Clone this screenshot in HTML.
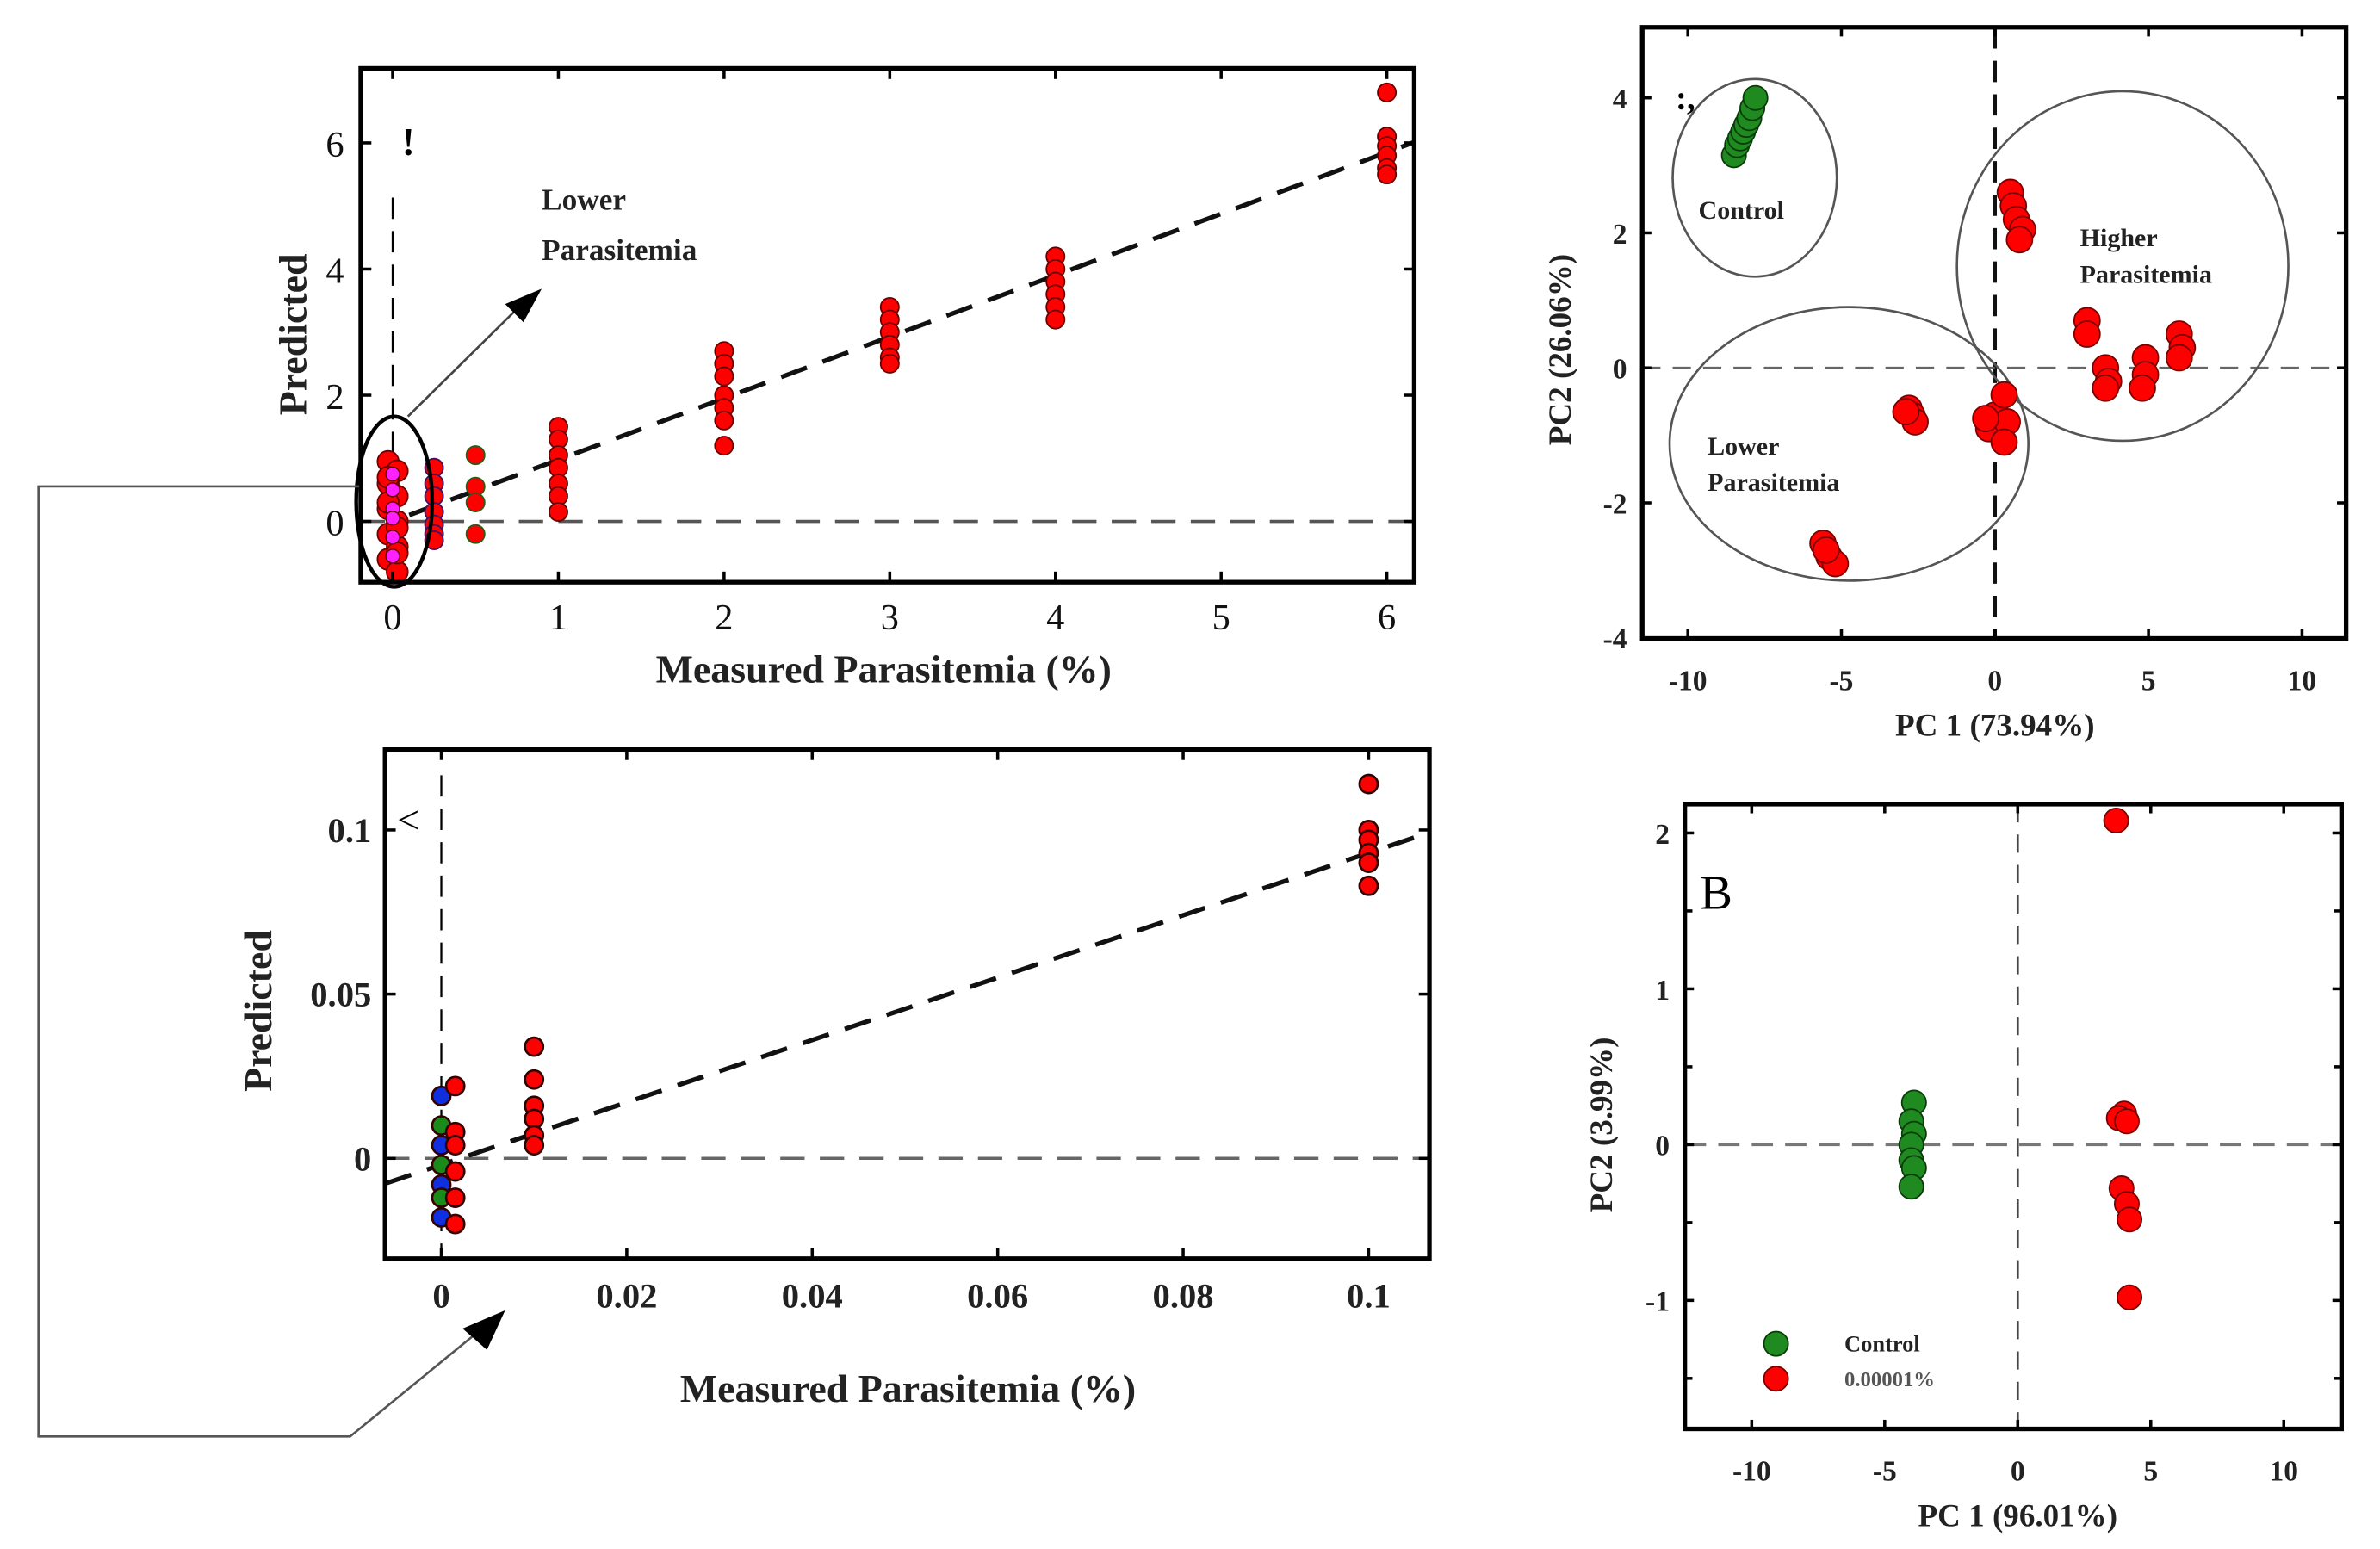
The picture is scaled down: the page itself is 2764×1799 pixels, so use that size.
<!DOCTYPE html>
<html><head><meta charset="utf-8"><style>
html,body{margin:0;padding:0;background:#fff;}
svg{display:block;}
text{font-family:"Liberation Serif",serif;}
</style></head><body>
<svg id="fig" width="2764" height="1799" viewBox="0 0 1565 1019" xmlns="http://www.w3.org/2000/svg">
<rect width="1565" height="1019" fill="#fff"/>
<g id="c1"></g>
<g id="c2"></g>
<g id="c3"></g>
<g id="c4"></g>
</svg>
<script>
// ---- chart 1 data
const c1XTicks=[0,1,2,3,4,5,6];
const c1YTicks=[0,2,4,6];
const c1X=[0,0,0,0,0,0,0,0,0,0,0,0,0,0,0.25,0.25,0.25,0.25,0.25,0.25,0.25,0.5,0.5,0.5,0.5,1,1,1,1,1,1,1,2,2,2,2,2,2,2,3,3,3,3,3,3,4,4,4,4,4,4,6,6,6,6,6,6];
const c1Y=[0.95,0.8,0.6,0.4,0.2,0,-0.2,-0.4,-0.6,-0.8,0.3,-0.1,0.7,-0.5,0.85,0.6,0.4,0.15,-0.05,-0.2,-0.3,1.05,0.55,0.3,-0.2,1.5,1.3,1.05,0.85,0.6,0.4,0.15,2.7,2.5,2.3,2.0,1.8,1.6,1.2,3.4,3.2,3.0,2.8,2.6,2.5,4.2,4.0,3.8,3.6,3.4,3.2,6.8,6.1,5.95,5.8,5.6,5.5];
const c1Col=["r","r","r","r","r","r","r","r","r","r","r","r","r","r","p","p","p","p","p","p","p","g","g","g","g","r","r","r","r","r","r","r","r","r","r","r","r","r","r","r","r","r","r","r","r","r","r","r","r","r","r","r","r","r","r","r","r"];
const c1Mag=[0.75,0.5,0.2,0.05,-0.25,-0.55];
// ---- chart 2 data
const c2XTicks=[0,0.02,0.04,0.06,0.08,0.1];
const c2XLabels=["0","0.02","0.04","0.06","0.08","0.1"];
const c2YTicks=[0,0.05,0.1];
const c2YLabels=["0","0.05","0.1"];
const c2X=[0,0,0,0,0,0,0,0.0015,0.0015,0.0015,0.0015,0.0015,0.0015,0.01,0.01,0.01,0.01,0.01,0.01,0.1,0.1,0.1,0.1,0.1,0.1];
const c2Y=[0.019,0.01,0.004,-0.002,-0.008,-0.012,-0.018,0.022,0.008,0.004,-0.004,-0.012,-0.02,0.034,0.024,0.016,0.012,0.007,0.004,0.114,0.1,0.097,0.093,0.09,0.083];
const c2Col=["b","g","b","g","b","g","b","r","r","r","r","r","r","r","r","r","r","r","r","r","r","r","r","r","r"];
// ---- chart 3 data
const c3XTicks=[-10,-5,0,5,10];
const c3YTicks=[-4,-2,0,2,4];
const c3GreenX=[-8.5,-8.4,-8.3,-8.2,-8.1,-8.0,-7.9,-7.8];
const c3GreenY=[3.15,3.3,3.4,3.5,3.6,3.7,3.85,4.0];
const c3RedX=[0.5,0.6,0.7,0.9,0.8,3.0,3.0,3.6,3.7,3.6,4.9,4.9,4.8,6.0,6.1,6.0,-2.8,-2.7,-2.6,-2.9,0,-0.2,0.3,0.4,0.3,-0.3,-5.6,-5.4,-5.2,-5.5];
const c3RedY=[2.6,2.4,2.2,2.05,1.9,0.7,0.5,0.0,-0.2,-0.3,0.15,-0.1,-0.3,0.5,0.3,0.15,-0.6,-0.7,-0.8,-0.65,-0.7,-0.9,-0.4,-0.8,-1.1,-0.75,-2.6,-2.8,-2.9,-2.7];
// ---- chart 4 data
const c4XTicks=[-10,-5,0,5,10];
const c4YTicks=[-1,0,1,2];
const c4GreenX=[-3.9,-4.0,-3.9,-4.0,-4.0,-3.9,-4.0];
const c4GreenY=[0.27,0.15,0.07,0,-0.1,-0.15,-0.27];
const c4RedX=[3.7,4.0,3.8,4.1,3.9,4.1,4.2,4.2];
const c4RedY=[2.08,0.2,0.17,0.15,-0.28,-0.38,-0.48,-0.98];

const NS="http://www.w3.org/2000/svg";
function mk(parent,tag,attrs,txt){const e=document.createElementNS(NS,tag);for(const k in attrs)e.setAttribute(k,attrs[k]);if(txt!==undefined)e.textContent=txt;parent.appendChild(e);return e;}
const COL={r:"#ff0000",g:"#1a8a1a",b:"#1030e0",m:"#ff20ff"};

// ===== Chart 1 =====
(function(){
const g=document.getElementById('c1');
const L=237,R=930,T=45,B=383;
const sx=v=>258+v*109, sy=v=>343-v*41.5;
mk(g,'line',{x1:258,y1:130,x2:258,y2:B,stroke:'#000','stroke-width':1.3,'stroke-dasharray':'14,8'});
mk(g,'line',{x1:L,y1:sy(0),x2:R,y2:sy(0),stroke:'#555','stroke-width':2,'stroke-dasharray':'16,10'});
const fl=mk(g,'line',{x1:sx(0.1),y1:sy(0.1),x2:R,y2:sy(0.975*(R-258)/109),stroke:'#111','stroke-width':3,'stroke-dasharray':'18,11'});


for(let i=0;i<c1X.length;i++){
const st=c1Col[i]=='g'?'#2a5a1a':(c1Col[i]=='p'?'#401060':'#600');
const c=mk(g,'circle',{cx:sx(c1X[i])+(c1X[i]==0?(i%2?3:-3):0),cy:sy(c1Y[i]),r:c1X[i]==0?7:6,fill:COL.r,stroke:st,'stroke-width':1});

}
for(let i=0;i<c1Mag.length;i++){const c=mk(g,'circle',{cx:sx(0),cy:sy(c1Mag[i]),r:4.5,fill:COL.m,stroke:'#600','stroke-width':0.8});

}
mk(g,'rect',{x:L,y:T,width:R-L,height:B-T,fill:'none',stroke:'#000','stroke-width':3});
c1XTicks.forEach(v=>{mk(g,'line',{x1:sx(v),y1:T,x2:sx(v),y2:T+7,stroke:'#000','stroke-width':2});mk(g,'line',{x1:sx(v),y1:B,x2:sx(v),y2:B-7,stroke:'#000','stroke-width':2});
const t=mk(g,'text',{x:sx(v),y:414,'font-size':24,'text-anchor':'middle',fill:'#111'},String(v));

});
c1YTicks.forEach(v=>{mk(g,'line',{x1:L,y1:sy(v),x2:L+7,y2:sy(v),stroke:'#000','stroke-width':2});mk(g,'line',{x1:R,y1:sy(v),x2:R-7,y2:sy(v),stroke:'#000','stroke-width':2});
const t=mk(g,'text',{x:226,y:sy(v)+9,'font-size':24,'text-anchor':'end',fill:'#111'},String(v));

});
})();
</script>
<script>
(function(){
const svg=document.getElementById('fig');
const g=document.getElementById('c1');
const a=(p,tag,at,tx)=>{const e=document.createElementNS(NS,tag);for(const k in at)e.setAttribute(k,at[k]);if(tx!==undefined)e.textContent=tx;p.appendChild(e);return e;};
const t1=a(g,'text',{x:581,y:449,'font-size':26,'font-weight':'bold','text-anchor':'middle',fill:'#222'},'Measured Parasitemia (%)');


const t2=a(g,'text',{x:0,y:0,'font-size':26,'font-weight':'bold','text-anchor':'middle',fill:'#222',transform:'translate(201,220) rotate(-90)'},'Predicted');


a(g,'ellipse',{cx:259,cy:330,rx:25,ry:56,fill:'none',stroke:'#000','stroke-width':2.5});
a(g,'line',{x1:268,y1:274,x2:340,y2:203,stroke:'#444','stroke-width':1.5});
a(g,'polygon',{points:'356,190 332,200 344,212',fill:'#000'});
const l1=a(g,'text',{x:356,y:138,'font-size':20,'font-weight':'bold',fill:'#222'},'Lower');


const l2=a(g,'text',{x:356,y:171,'font-size':20,'font-weight':'bold',fill:'#222'},'Parasitemia');


a(g,'text',{x:264,y:102,'font-size':26,'font-weight':'bold',fill:'#000'},'!');
a(svg,'polyline',{points:'236,320 25,320 25,945 230,945 318,873',fill:'none',stroke:'#555','stroke-width':1.5});
a(svg,'polygon',{points:'332,862 304,874 320,888',fill:'#000'});

// ===== Chart 2 =====
const g2=document.getElementById('c2');
const L=253,R=940,T=493,B=828;
const sx=v=>290+v*6100, sy=v=>762-v*2160;
a(g2,'line',{x1:290,y1:510,x2:290,y2:B,stroke:'#000','stroke-width':1.3,'stroke-dasharray':'14,8'});
a(g2,'line',{x1:L,y1:sy(0),x2:R,y2:sy(0),stroke:'#666','stroke-width':2,'stroke-dasharray':'16,10'});
const fl=a(g2,'line',{x1:L,y1:sy(0.95*(-0.006)-0.002),x2:R,y2:sy(0.95*((R-290)/6100)-0.002),stroke:'#111','stroke-width':3,'stroke-dasharray':'18,11'});


for(let i=0;i<c2X.length;i++){const c=a(g2,'circle',{cx:sx(c2X[i]),cy:sy(c2Y[i]),r:6,fill:COL[c2Col[i]],stroke:'#300','stroke-width':1.5});

}
a(g2,'rect',{x:L,y:T,width:R-L,height:B-T,fill:'none',stroke:'#000','stroke-width':3});
c2XTicks.forEach((v,i)=>{a(g2,'line',{x1:sx(v),y1:T,x2:sx(v),y2:T+7,stroke:'#000','stroke-width':2});a(g2,'line',{x1:sx(v),y1:B,x2:sx(v),y2:B-7,stroke:'#000','stroke-width':2});
const t=a(g2,'text',{x:sx(v),y:860,'font-size':23,'font-weight':'bold','text-anchor':'middle',fill:'#222'},c2XLabels[i]);

});
c2YTicks.forEach((v,i)=>{a(g2,'line',{x1:L,y1:sy(v),x2:L+7,y2:sy(v),stroke:'#000','stroke-width':2});a(g2,'line',{x1:R,y1:sy(v),x2:R-7,y2:sy(v),stroke:'#000','stroke-width':2});
const t=a(g2,'text',{x:244,y:sy(v)+8,'font-size':23,'font-weight':'bold','text-anchor':'end',fill:'#222'},c2YLabels[i]);

});
const t3=a(g2,'text',{x:597,y:922,'font-size':26,'font-weight':'bold','text-anchor':'middle',fill:'#222'},'Measured Parasitemia (%)');


const t4=a(g2,'text',{x:0,y:0,'font-size':26,'font-weight':'bold','text-anchor':'middle',fill:'#222',transform:'translate(178,665) rotate(-90)'},'Predicted');


a(g2,'text',{x:261,y:548,'font-size':26,fill:'#000'},'<');

// ===== Chart 3 =====
const g3=document.getElementById('c3');
{const L=1080,R=1543,T=18,B=420;
const sx=v=>1312+v*20.2, sy=v=>242-v*44.4;
a(g3,'line',{x1:sx(0),y1:T,x2:sx(0),y2:B,stroke:'#111','stroke-width':2.5,'stroke-dasharray':'14,8'});
a(g3,'line',{x1:L,y1:sy(0),x2:R,y2:sy(0),stroke:'#666','stroke-width':1.5,'stroke-dasharray':'12,8'});
a(g3,'ellipse',{cx:1154,cy:117,rx:54,ry:65,fill:'none',stroke:'#555','stroke-width':1.5});
a(g3,'ellipse',{cx:1396,cy:175,rx:109,ry:115,fill:'none',stroke:'#555','stroke-width':1.5});
a(g3,'ellipse',{cx:1216,cy:292,rx:118,ry:90,fill:'none',stroke:'#555','stroke-width':1.5});
for(let i=0;i<c3GreenX.length;i++){const c=a(g3,'circle',{cx:sx(c3GreenX[i]),cy:sy(c3GreenY[i]),r:8,fill:'#1f8a1f',stroke:'#0a3a0a','stroke-width':1});

}
for(let i=0;i<c3RedX.length;i++){const c=a(g3,'circle',{cx:sx(c3RedX[i]),cy:sy(c3RedY[i]),r:8.5,fill:'#ff0000',stroke:'#700','stroke-width':1});

}
a(g3,'rect',{x:L,y:T,width:R-L,height:B-T,fill:'none',stroke:'#000','stroke-width':3});
c3XTicks.forEach(v=>{a(g3,'line',{x1:sx(v),y1:T,x2:sx(v),y2:T+6,stroke:'#000','stroke-width':2});a(g3,'line',{x1:sx(v),y1:B,x2:sx(v),y2:B-6,stroke:'#000','stroke-width':2});
const t=a(g3,'text',{x:sx(v),y:454,'font-size':19,'font-weight':'bold','text-anchor':'middle',fill:'#222'},String(v));

});
c3YTicks.forEach(v=>{a(g3,'line',{x1:L,y1:sy(v),x2:L+6,y2:sy(v),stroke:'#000','stroke-width':2});a(g3,'line',{x1:R,y1:sy(v),x2:R-6,y2:sy(v),stroke:'#000','stroke-width':2});
const t=a(g3,'text',{x:1070,y:sy(v)+7,'font-size':19,'font-weight':'bold','text-anchor':'end',fill:'#222'},String(v));

});
const tt=a(g3,'text',{x:1312,y:484,'font-size':21,'font-weight':'bold','text-anchor':'middle',fill:'#222'},'PC 1 (73.94%)');


const ty=a(g3,'text',{x:0,y:0,'font-size':21,'font-weight':'bold','text-anchor':'middle',fill:'#222',transform:'translate(1033,230) rotate(-90)'},'PC2 (26.06%)');


[['Control',1117,144],['Higher',1368,162],['Parasitemia',1368,186],['Lower',1123,299],['Parasitemia',1123,323]].forEach(d=>{const t=a(g3,'text',{x:d[1],y:d[2],'font-size':17,'font-weight':'bold',fill:'#222'},d[0]);

});
a(g3,'text',{x:1102,y:72,'font-size':22,'font-weight':'bold',fill:'#000'},':,');
}

// ===== Chart 4 =====
const g4=document.getElementById('c4');
{const L=1108,R=1540,T=529,B=940;
const sx=v=>1327+v*17.5, sy=v=>753-v*102.5;
a(g4,'line',{x1:sx(0),y1:T,x2:sx(0),y2:B,stroke:'#444','stroke-width':1.5,'stroke-dasharray':'12,8'});
a(g4,'line',{x1:L,y1:sy(0),x2:R,y2:sy(0),stroke:'#777','stroke-width':2,'stroke-dasharray':'14,8'});
for(let i=0;i<c4GreenX.length;i++){const c=a(g4,'circle',{cx:sx(c4GreenX[i]),cy:sy(c4GreenY[i]),r:8,fill:'#1f8a1f',stroke:'#0a3a0a','stroke-width':1});

}
for(let i=0;i<c4RedX.length;i++){const c=a(g4,'circle',{cx:sx(c4RedX[i]),cy:sy(c4RedY[i]),r:8,fill:'#ff0000',stroke:'#700','stroke-width':1});

}
a(g4,'rect',{x:L,y:T,width:R-L,height:B-T,fill:'none',stroke:'#000','stroke-width':3});
c4XTicks.forEach(v=>{a(g4,'line',{x1:sx(v),y1:T,x2:sx(v),y2:T+6,stroke:'#000','stroke-width':2});a(g4,'line',{x1:sx(v),y1:B,x2:sx(v),y2:B-6,stroke:'#000','stroke-width':2});
const t=a(g4,'text',{x:sx(v),y:974,'font-size':19,'font-weight':'bold','text-anchor':'middle',fill:'#222'},String(v));

});
c4YTicks.forEach(v=>{a(g4,'line',{x1:L,y1:sy(v),x2:L+6,y2:sy(v),stroke:'#000','stroke-width':2});a(g4,'line',{x1:R,y1:sy(v),x2:R-6,y2:sy(v),stroke:'#000','stroke-width':2});
const t=a(g4,'text',{x:1098,y:sy(v)+7,'font-size':19,'font-weight':'bold','text-anchor':'end',fill:'#222'},String(v));

});
[-1.5,-0.5,0.5,1.5].forEach(v=>{a(g4,'line',{x1:L,y1:sy(v),x2:L+5,y2:sy(v),stroke:'#000','stroke-width':2});a(g4,'line',{x1:R,y1:sy(v),x2:R-5,y2:sy(v),stroke:'#000','stroke-width':2});});
const tt=a(g4,'text',{x:1327,y:1004,'font-size':21,'font-weight':'bold','text-anchor':'middle',fill:'#222'},'PC 1 (96.01%)');


const ty=a(g4,'text',{x:0,y:0,'font-size':21,'font-weight':'bold','text-anchor':'middle',fill:'#222',transform:'translate(1060,740) rotate(-90)'},'PC2 (3.99%)');


a(g4,'text',{x:1118,y:598,'font-size':32,fill:'#000'},'B');
a(g4,'circle',{cx:1168,cy:884,r:8,fill:'#1f8a1f',stroke:'#0a3a0a','stroke-width':1});
a(g4,'circle',{cx:1168,cy:907,r:8,fill:'#ff0000',stroke:'#700','stroke-width':1});
const lg1=a(g4,'text',{x:1213,y:889,'font-size':15,'font-weight':'bold',fill:'#222'},'Control');


const lg2=a(g4,'text',{x:1213,y:912,'font-size':14,'font-weight':'bold',fill:'#555'},'0.00001%');


}
})();
</script>
</body></html>
